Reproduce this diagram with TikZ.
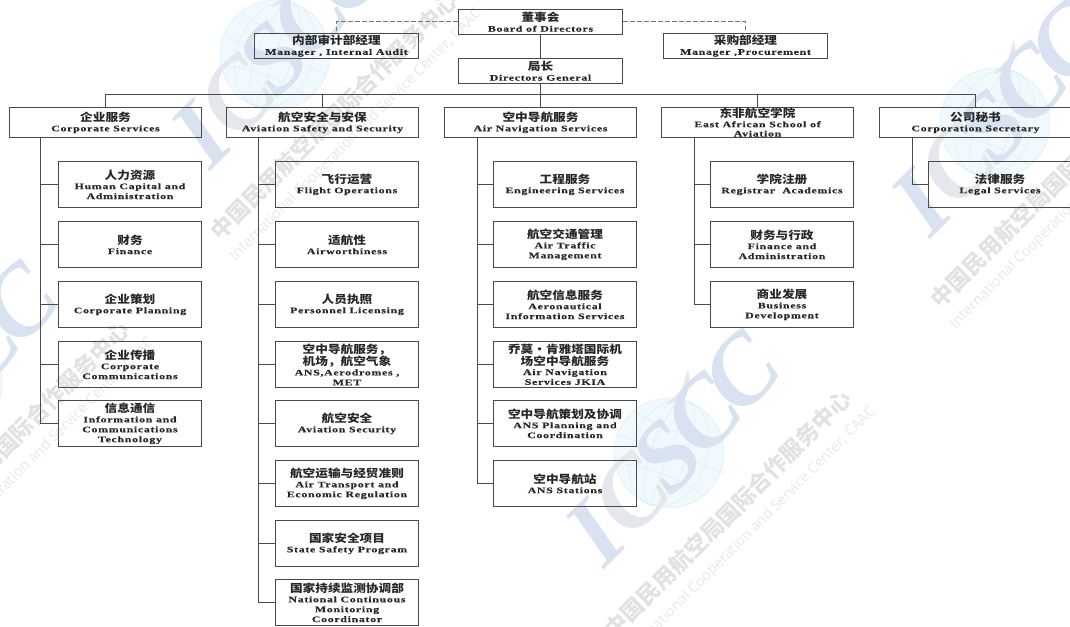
\documentclass[tikz,border=0pt]{standalone}
\usepackage{fontspec}
\setmainfont{Liberation Serif}[FakeStretch=1.4,LetterSpace=8,BoldFeatures={FakeBold=0.25}]
\newfontfamily\cjkfont{Noto Sans CJK SC}[FakeStretch=1.15]
\newfontfamily\wmzh{Noto Sans CJK SC}
\newfontfamily\wmen{Open Sans}
\newfontfamily\wmbig{Liberation Serif}
\newcommand{\zhtxt}[1]{{\cjkfont\bfseries\fontsize{11}{10}\selectfont #1}}
\newcommand{\entxt}[1]{{\bfseries #1}}
\definecolor{ln}{HTML}{4A4A4A}
\definecolor{dashc}{HTML}{777777}
\definecolor{wmletter}{HTML}{D9E2F0}
\definecolor{wmletterb}{HTML}{E4E7EC}
\definecolor{wmglobe}{HTML}{F1F9FD}
\definecolor{wmgrid}{HTML}{D3EDF8}
\definecolor{wmtext}{HTML}{E2E2E2}
\definecolor{wmsub}{HTML}{E8E8E8}
\tikzset{
  x=1pt,y=-1pt,
  boxbase/.style={draw=ln,line width=1.1pt,inner sep=0pt,align=center,text=black!85,
    font=\fontsize{8.5}{9.9}\selectfont},
  headbox/.style={boxbase,minimum width=164pt,minimum height=25pt},
  topbox/.style={boxbase,minimum width=192pt,minimum height=30pt},
  kidbox/.style={boxbase,minimum width=143pt,minimum height=46pt},
  link/.style={draw=ln,line width=1.1pt},
  dashlink/.style={draw=dashc,line width=1pt,dash pattern=on 4.5pt off 2.5pt},
  biglet/.style={font=\wmbig\bfseries\itshape\fontsize{98}{98}\selectfont,text=wmletter,rotate=45,inner sep=0pt},
  wm/.pic={
    \fill[wmglobe] (0,0) circle[radius=55];
    \begin{scope}[rotate=-20,draw=wmgrid,line width=0.45pt]
      \draw (0,0) circle[radius=55];
      \draw (0,0) ellipse[x radius=18,y radius=55];
      \draw (0,0) ellipse[x radius=38,y radius=55];
      \draw (-55,0) -- (55,0);
      \draw (0,-55) -- (0,55);
      \draw (-47,-28) .. controls (-20,-20) and (20,-20) .. (47,-28);
      \draw (-47,28) .. controls (-20,20) and (20,20) .. (47,28);
    \end{scope}
    \fill[wmletterb] (19,-84) -- (13,-64) -- (-3,-48) -- (8,-52) -- (2,-44) -- (18,-60) -- (21,-70) -- cycle;
    \node[biglet] (i) at (-74,80) {I};
    \node[biglet,text=wmletterb] (c) at (-38,42) {C};
    \node[biglet] (s) at (-2,4) {S};
    \node[biglet] (d) at (34,-38) {C};
    \node[biglet] (e) at (72,-80) {C};
    \node[rotate=45,inner sep=0pt,text=wmtext,font=\wmzh\bfseries\fontsize{22.5}{23}\selectfont] (z) at (59,61) {中国民用航空局国际合作服务中心};
    \node[rotate=45,inner sep=0pt,text=wmsub,font=\wmen\fontsize{14.5}{15}\selectfont] (t) at (81,80) {International Cooperation and Service Center, CAAC};
  }
}
\begin{document}
\begin{tikzpicture}
\useasboundingbox (0,0) rectangle (1070,626);
\clip (0,0) rectangle (1070,626);
\pic (wa) at (275,55) {wm};
\pic (wb) at (995,123) {wm};
\pic (wc) at (669,453) {wm};
\pic (wd) at (-53,384) {wm};

% heads
\node[headbox] (board) at (540.5,22) {\zhtxt{董事会}\\\entxt{Board of Directors}};
\node[headbox] (audit) at (336.5,46) {\zhtxt{内部审计部经理}\\\entxt{Manager , Internal Audit}};
\node[headbox] (proc) at (745.5,46) {\zhtxt{采购部经理}\\\entxt{Manager ,Procurement}};
\node[headbox] (dg) at (540.5,71) {\zhtxt{局长}\\\entxt{Directors General}};
% departments
\node[topbox] (corp) at (105.5,122.5) {\zhtxt{企业服务}\\\entxt{Corporate Services}};
\node[topbox] (avs) at (322.5,122.5) {\zhtxt{航空安全与安保}\\\entxt{Aviation Safety and Security}};
\node[topbox] (ans) at (540.5,122.5) {\zhtxt{空中导航服务}\\\entxt{Air Navigation Services}};
\node[topbox] (eas) at (757.5,122.5) {\zhtxt{东非航空学院}\\[-0.6pt]\entxt{East African School of}\\[-0.6pt]\entxt{Aviation}};
\node[topbox] (sec) at (975.5,122.5) {\zhtxt{公司秘书}\\\entxt{Corporation Secretary}};
% corporate
\node[kidbox] (c1) at (130,184.5) {\zhtxt{人力资源}\\\entxt{Human Capital and}\\\entxt{Administration}};
\node[kidbox] (c2) at (130,244.5) {\zhtxt{财务}\\\entxt{Finance}};
\node[kidbox] (c3) at (130,304.5) {\zhtxt{企业策划}\\\entxt{Corporate Planning}};
\node[kidbox] (c4) at (130,364.5) {\zhtxt{企业传播}\\\entxt{Corporate}\\\entxt{Communications}};
\node[kidbox] (c5) at (130,423.5) {\zhtxt{信息通信}\\\entxt{Information and}\\\entxt{Communications}\\\entxt{Technology}};
% aviation safety
\node[kidbox] (a1) at (347,184.5) {\zhtxt{飞行运营}\\\entxt{Flight Operations}};
\node[kidbox] (a2) at (347,244.5) {\zhtxt{适航性}\\\entxt{Airworthiness}};
\node[kidbox] (a3) at (347,304.5) {\zhtxt{人员执照}\\\entxt{Personnel Licensing}};
\node[kidbox] (a4) at (347,364.5) {\zhtxt{空中导航服务，}\\\zhtxt{机场，航空气象}\\\entxt{ANS,Aerodromes ,}\\\entxt{MET}};
\node[kidbox] (a5) at (347,423.5) {\zhtxt{航空安全}\\\entxt{Aviation Security}};
\node[kidbox] (a6) at (347,483.5) {\zhtxt{航空运输与经贸准则}\\\entxt{Air Transport and}\\\entxt{Economic Regulation}};
\node[kidbox] (a7) at (347,543.5) {\zhtxt{国家安全项目}\\\entxt{State Safety Program}};
\node[kidbox] (a8) at (347,602.5) {\zhtxt{国家持续监测协调部}\\\entxt{National Continuous}\\\entxt{Monitoring}\\\entxt{Coordinator}};
% air navigation
\node[kidbox] (n1) at (565,184.5) {\zhtxt{工程服务}\\\entxt{Engineering Services}};
\node[kidbox] (n2) at (565,244.5) {\zhtxt{航空交通管理}\\\entxt{Air Traffic}\\\entxt{Management}};
\node[kidbox] (n3) at (565,304.5) {\zhtxt{航空信息服务}\\\entxt{Aeronautical}\\\entxt{Information Services}};
\node[kidbox] (n4) at (565,364.5) {\zhtxt{乔莫·肯雅塔国际机}\\\zhtxt{场空中导航服务}\\\entxt{Air Navigation}\\\entxt{Services JKIA}};
\node[kidbox] (n5) at (565,423.5) {\zhtxt{空中导航策划及协调}\\\entxt{ANS Planning and}\\\entxt{Coordination}};
\node[kidbox] (n6) at (565,483.5) {\zhtxt{空中导航站}\\\entxt{ANS Stations}};
% EASA
\node[kidbox] (e1) at (782,184.5) {\zhtxt{学院注册}\\\entxt{Registrar\ \ Academics}};
\node[kidbox] (e2) at (782,244.5) {\zhtxt{财务与行政}\\\entxt{Finance and}\\\entxt{Administration}};
\node[kidbox] (e3) at (782,304.5) {\zhtxt{商业发展}\\\entxt{Business}\\\entxt{Development}};
% secretary
\node[kidbox] (s1) at (1000,184.5) {\zhtxt{法律服务}\\\entxt{Legal Services}};

% spine and bus coordinates
\coordinate (bus) at (540.5,94.5);
\coordinate (sc) at (40.5,120);
\coordinate (sa) at (258.5,120);
\coordinate (sn) at (477.5,120);
\coordinate (se) at (694.5,120);
\coordinate (ss) at (912.5,120);

% top connectors
\draw[dashlink] (board.west) -| (audit.north);
\draw[dashlink] (board.east) -| (proc.north);
\draw[link] (board) -- (dg);
\draw[link] (dg) -- (bus);
\draw[link] (corp.north) |- (bus) -| (sec.north);
\draw[link] (avs.north) -- (avs.north |- bus);
\draw[link] (ans.north) -- (ans.north |- bus);
\draw[link] (eas.north) -- (eas.north |- bus);

% spines
\draw[link] (corp.south -| sc) |- (c5.west);
\foreach \k in {c1,c2,c3,c4} \draw[link] (sc |- \k.west) -- (\k.west);
\draw[link] (avs.south -| sa) |- (a8.west);
\foreach \k in {a1,a2,a3,a4,a5,a6,a7} \draw[link] (sa |- \k.west) -- (\k.west);
\draw[link] (ans.south -| sn) |- (n6.west);
\foreach \k in {n1,n2,n3,n4,n5} \draw[link] (sn |- \k.west) -- (\k.west);
\draw[link] (eas.south -| se) |- (e3.west);
\foreach \k in {e1,e2} \draw[link] (se |- \k.west) -- (\k.west);
\draw[link] (sec.south -| ss) |- (s1.west);
\end{tikzpicture}
\end{document}
